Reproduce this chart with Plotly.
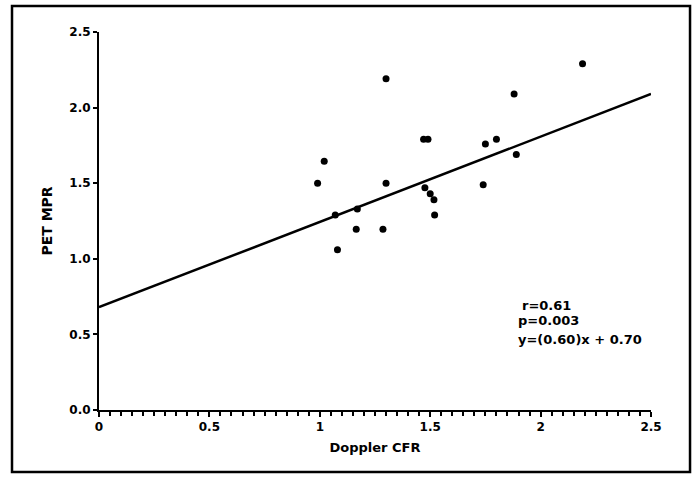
import plotly.graph_objects as go

# Data
doppler_cfr = [2.19, 1.30, 1.88, 1.47, 1.49, 1.75, 1.80, 1.89, 1.02, 0.99, 1.30,
               1.74, 1.476, 1.50, 1.517, 1.52, 1.07, 1.17, 1.165, 1.286, 1.08]
pet_mpr = [2.29, 2.19, 2.09, 1.79, 1.79, 1.76, 1.79, 1.69, 1.645, 1.50, 1.50,
           1.49, 1.47, 1.43, 1.39, 1.29, 1.29, 1.33, 1.195, 1.195, 1.06]

fit_x = [0.0, 2.5]
fit_y = [0.68, 2.09]

x_tickvals = [0, 0.5, 1, 1.5, 2, 2.5]
x_ticktext = ["0", "0.5", "1", "1.5", "2", "2.5"]
y_tickvals = [0, 0.5, 1.0, 1.5, 2.0, 2.5]
y_ticktext = ["0.0", "0.5", "1.0", "1.5", "2.0", "2.5"]

stats_lines = ["r=0.61", "p=0.003", "y=(0.60)x + 0.70"]
stats_x = [1.905, 1.89, 1.89]
stats_y = [0.694, 0.589, 0.463]

FONT = "DejaVu Sans"

fig = go.Figure()
fig.add_trace(go.Scatter(x=fit_x, y=fit_y, mode="lines",
                         line=dict(color="black", width=2.5),
                         showlegend=False, hoverinfo="skip"))
fig.add_trace(go.Scatter(x=doppler_cfr, y=pet_mpr, mode="markers",
                         marker=dict(color="black", size=7),
                         showlegend=False))

for t, ax, ay in zip(stats_lines, stats_x, stats_y):
    fig.add_annotation(x=ax, y=ay, xref="x", yref="y", text=t, showarrow=False,
                       xanchor="left", yanchor="middle",
                       font=dict(family=FONT, size=13, color="black", weight="bold"))

# outer frame
fig.add_shape(type="rect", xref="paper", yref="paper",
              x0=-0.1576, x1=1.0707, y0=-0.164, y1=1.0688,
              line=dict(color="black", width=2.5))

fig.update_layout(
    width=696, height=478, autosize=False,
    margin=dict(l=99, r=45, t=32, b=68),
    paper_bgcolor="white", plot_bgcolor="white",
    font=dict(family=FONT, color="black"),
    xaxis=dict(range=[0, 2.5], tickvals=x_tickvals, ticktext=x_ticktext,
               showgrid=False, zeroline=False, showline=True,
               linecolor="black", linewidth=2, ticks="outside", ticklen=5,
               tickwidth=1.5, tickcolor="black",
               minor=dict(dtick=0.05, ticks="outside", ticklen=4, tickwidth=1.5,
                          tickcolor="black", showgrid=False),
               tickfont=dict(family=FONT, size=12, weight="bold"),
               title=dict(text="Doppler CFR", standoff=9,
                          font=dict(family=FONT, size=13, weight="bold"))),
    yaxis=dict(range=[0, 2.5], tickvals=y_tickvals, ticktext=y_ticktext,
               showgrid=False, zeroline=False, showline=True,
               linecolor="black", linewidth=2, ticks="outside", ticklen=4,
               tickwidth=1.5, tickcolor="black",
               tickfont=dict(family=FONT, size=12, weight="bold"),
               title=dict(text="PET MPR", standoff=13,
                          font=dict(family=FONT, size=14, weight="bold"))),
)

fig.write_html("out.html")
